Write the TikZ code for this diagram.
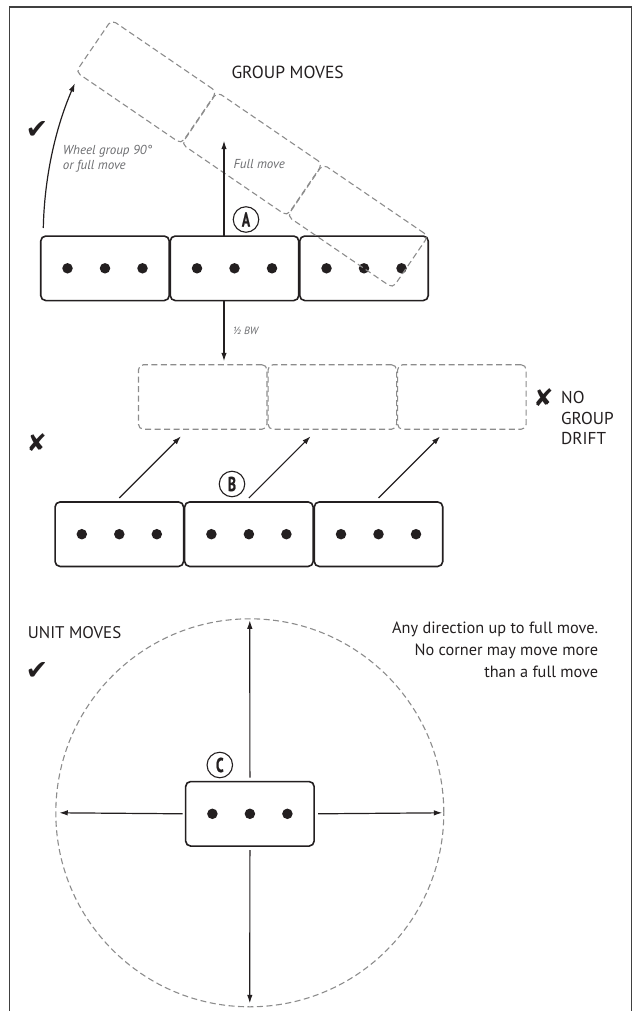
\documentclass[tikz,border=0pt]{standalone}
\usepackage{fontspec}
\usepackage{graphicx}
\setmainfont{PT Sans}
\newfontfamily\symfont{DejaVu Sans}
\newfontfamily\tagfont{PT Sans}[BoldFeatures={FakeBold=1.2}]
\usetikzlibrary{arrows.meta,calc}
\definecolor{ink}{HTML}{231F20}
\definecolor{ghostgray}{HTML}{8C8C8C}
\definecolor{labelgray}{HTML}{6D6E71}
\tikzset{
  unitbox/.style={draw=ink, line width=1.6pt, rounded corners=5pt, minimum width=128.5pt, minimum height=64.5pt, inner sep=0pt, outer sep=0pt},
  ghostbox/.style={draw=ghostgray, line width=1.1pt, dash pattern=on 6pt off 3.5pt, rounded corners=5pt, minimum width=128.5pt, minimum height=64.5pt, inner sep=0pt, outer sep=0pt},
  unitdot/.style={circle, fill=ink, inner sep=0pt, minimum size=10.5pt},
  arr/.style={draw=ink, line width=1.2pt, -{Latex[length=8.5pt,width=5.5pt]}},
  tagc/.style={circle, draw=ink, line width=1.1pt, minimum size=25.5pt, inner sep=0pt, text=ink, font=\tagfont\fontsize{20}{20}\selectfont\bfseries},
  head/.style={anchor=base west, inner sep=0pt, text=ink, font=\fontsize{17.5}{20}\selectfont},
  note/.style={inner sep=0pt, text=labelgray, font=\fontsize{13}{15}\selectfont\itshape},
  body/.style={anchor=base east, inner sep=0pt, text=ink, font=\fontsize{16.3}{18}\selectfont},
  okmark/.style={inner sep=0pt, text=ink, font=\symfont\fontsize{27}{27}\selectfont},
  nomark/.style={inner sep=0pt, text=ink, font=\symfont\fontsize{24}{24}\selectfont},
  frame/.style={draw=black!75, line width=1.3pt}
}
\begin{document}
\begin{tikzpicture}[x=1pt,y=-1pt]
\useasboundingbox (0,0) rectangle (636,1011);
% frame
\draw[frame] (9.5,1011) -- (9.5,7) -- (631.5,7) -- (631.5,1011);

% ---------- Group A ----------
\foreach \i/\cx in {1/105,2/234.5,3/364}{
  \node[unitbox] (a\i) at (\cx,268.3) {};
  \foreach \d in {-37.5,0,37.5}{
    \node[unitdot] at ($(a\i.center)+(\d,0)$) {};
  }
}
% rotated (wheeled) group
\coordinate (pivot) at (428.3,236);
\begin{scope}[rotate around={-34.3:(pivot)}]
  \foreach \i/\cx in {1/108.5,2/236.5,3/364.5}{
    \node[ghostbox, minimum width=127.5pt, minimum height=63pt, transform shape] (r\i) at (\cx,267.5) {};
  }
\end{scope}
% wheel arrow (arc centred on pivot)
\coordinate (wstart) at (43.3,228);
\draw[arr] (wstart) arc[start angle=178.8, end angle=156.6, radius=385pt] coordinate (wend);
% full move arrow
\coordinate (fmtip) at (224,140.7);
\draw[arr] (a2.north -| fmtip) -- (fmtip);
\node[tagc] (tA) at (246,219.5) {\scalebox{0.68}[1]{A}};
\node[head] (gm) at (231.3,78.3) {GROUP MOVES};
\node[note, anchor=base west] (wh1) at (62.7,154.3) {Wheel group 90°};
\node[note, anchor=base west] (wh2) at (62.7,169.3) {or full move};
\node[note, anchor=base west] (fm) at (233.3,168.3) {Full move};
\node[okmark] (ck1) at (37,130) {✔};

% ---------- drift ghosts ----------
\foreach \i/\cx in {1/202.7,2/332.3,3/461.9}{
  \node[ghostbox] (g\i) at (\cx,397) {};
}
\coordinate (bwtip) at ($(g1.north -| fmtip)+(0,-3.5)$);
\draw[arr] (a2.south -| fmtip) -- (bwtip);
\node[note, anchor=west, font=\fontsize{10.5}{12}\selectfont\itshape] (bw) at (232.5,331) {½ BW};
\node[nomark] (x1) at (36.6,443) {✘};
\node[nomark] (x2) at (543.3,397.7) {✘};
\node[head, font=\fontsize{17.2}{20}\selectfont] (no1) at (561,403.3) {NO};
\node[head, font=\fontsize{17.2}{20}\selectfont] (no2) at (561,424) {GROUP};
\node[head, font=\fontsize{17.2}{20}\selectfont] (no3) at (561,444.3) {DRIFT};

% ---------- Group B ----------
\foreach \i/\cx in {1/119.3,2/248.9,3/378.5}{
  \node[unitbox] (b\i) at (\cx,534.2) {};
  \foreach \d in {-37.5,0,37.5}{
    \node[unitdot] at ($(b\i.center)+(\d,0)$) {};
  }
  \coordinate (bs\i) at ($(b\i.north)+(0,-4)$);
  \coordinate (be\i) at ($(bs\i)+(61.7,-61.7)$);
  \draw[arr] (bs\i) -- (be\i);
}
\node[tagc] (tB) at (232,484) {\scalebox{0.68}[1]{B}};

% ---------- Unit moves ----------
\node[head, font=\fontsize{16.9}{20}\selectfont] (um) at (27.7,638.3) {UNIT MOVES};
\node[okmark] (ck2) at (37,671) {✔};
\node[body] (t1) at (598.3,633.3) {Any direction up to full move.};
\node[body] (t2) at (598.3,655) {No corner may move more};
\node[body] (t3) at (598.3,677.3) {than a full move};

\node[circle, draw=ghostgray, line width=1.1pt, dash pattern=on 6pt off 3.5pt, minimum size=388pt, inner sep=0pt] (ring) at (249.8,812.8) {};
\node[unitbox] (c1) at (249.9,813.8) {};
\foreach \d in {-37.5,0,37.5}{
  \node[unitdot] at ($(c1.center)+(\d,0)$) {};
}
\draw[arr] ($(c1.north)+(0,-4)$) -- ($(ring.north)+(0,2)$);
\draw[arr] ($(c1.south)+(0,4)$) -- ($(ring.south)+(0,-4)$);
\draw[arr] ($(c1.west)+(-3,0)$) -- ($(ring.west)+(4,0)$);
\draw[arr] ($(c1.east)+(4,0)$) -- ($(ring.east)+(-2,0)$);
\node[tagc] (tC) at (219.8,765) {\scalebox{0.68}[1]{C}};
\end{tikzpicture}
\end{document}
